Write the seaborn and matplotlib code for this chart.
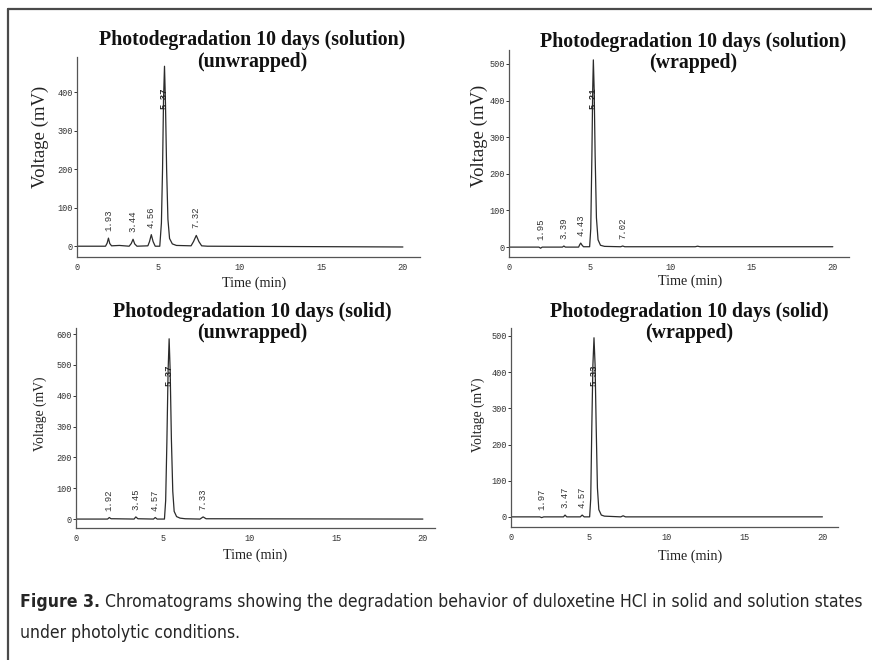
import numpy as np
import pandas as pd
import matplotlib
matplotlib.use("Agg")
import matplotlib.pyplot as plt
import seaborn as sns
from matplotlib import font_manager
from matplotlib.lines import Line2D

# ---------------- data ----------------
# Panel A: solution, unwrapped
t_sol_unw = [0, 1.75, 1.85, 1.93, 2.01, 2.12, 2.6, 3.2, 3.33, 3.44, 3.54, 3.68, 4.35, 4.45, 4.56, 4.67, 4.8,
             5.08, 5.18, 5.25, 5.31, 5.37, 5.43, 5.50, 5.58, 5.68, 5.85, 6.1, 7.0, 7.15, 7.32, 7.48, 7.65, 8.0, 20.0]
v_sol_unw = [0, 0, 8, 21, 7, 1, 2, 0, 7, 18, 6, 0, 1, 12, 30, 12, 0,
             0, 60, 200, 380, 467, 370, 200, 70, 20, 6, 2, 1, 12, 28, 12, 1, 0, -2]
lab_sol_unw = ["1.93", "3.44", "4.56", "7.32"]
labx_sol_unw = [1.93, 3.44, 4.56, 7.32]
labh_sol_unw = [21, 18, 30, 28]
main_sol_unw = ("5.37", 5.37, 385)

# Panel B: solution, wrapped
t_sol_wr = [0, 1.85, 1.95, 2.05, 3.3, 3.39, 3.48, 4.3, 4.36, 4.43, 4.5, 4.6, 4.8,
            4.98, 5.05, 5.12, 5.17, 5.21, 5.26, 5.32, 5.40, 5.5, 5.65, 5.9, 6.9, 7.02, 7.15,
            11.5, 11.65, 11.8, 20.0]
v_sol_wr = [0, 0, -3, 0, 0, 3, 0, 0, 6, 11, 6, 1, 1,
            1, 50, 250, 430, 511, 430, 250, 80, 20, 5, 2, 1, 3, 1,
            1, 2.5, 1, 1]
lab_sol_wr = ["1.95", "3.39", "4.43", "7.02"]
labx_sol_wr = [1.95, 3.39, 4.43, 7.02]
labh_sol_wr = [0, 3, 11, 3]
main_sol_wr = ("5.21", 5.21, 405)

# Panel C: solid, unwrapped
t_sld_unw = [0, 1.82, 1.92, 2.02, 2.2, 3.35, 3.45, 3.57, 4.47, 4.57, 4.68,
             5.1, 5.17, 5.24, 5.31, 5.37, 5.43, 5.50, 5.58, 5.66, 5.8, 6.0, 6.3, 7.15, 7.33, 7.5, 20.0]
v_sld_unw = [0, 0, 5, 1, 1, 0, 7, 1, 0, 5, 0,
             0, 60, 250, 480, 585, 480, 260, 90, 25, 8, 3, 1, 0, 7, 1, 0]
lab_sld_unw = ["1.92", "3.45", "4.57", "7.33"]
labx_sld_unw = [1.92, 3.45, 4.57, 7.33]
labh_sld_unw = [5, 7, 5, 7]
main_sld_unw = ("5.37", 5.37, 467)

# Panel D: solid, wrapped
t_sld_wr = [0, 1.85, 1.97, 2.1, 3.37, 3.47, 3.58, 4.45, 4.57, 4.7,
            5.05, 5.12, 5.19, 5.26, 5.33, 5.40, 5.47, 5.55, 5.64, 5.8, 6.0, 7.05, 7.2, 7.35, 20.0]
v_sld_wr = [0, 0, -2, 0, 0, 5, 0, 0, 5, 0,
            0, 50, 250, 420, 495, 420, 250, 80, 20, 5, 2, 0, 3, 0, 0]
lab_sld_wr = ["1.97", "3.47", "4.57"]
labx_sld_wr = [1.97, 3.47, 4.57]
labh_sld_wr = [0, 5, 5]
main_sld_wr = ("5.33", 5.33, 392)

titles = [
    ("Photodegradation 10 days (solution)", "(unwrapped)"),
    ("Photodegradation 10 days (solution)", "(wrapped)"),
    ("Photodegradation 10 days (solid)", "(unwrapped)"),
    ("Photodegradation 10 days (solid)", "(wrapped)"),
]
y_ticks = [[0, 100, 200, 300, 400], [0, 100, 200, 300, 400, 500],
           [0, 100, 200, 300, 400, 500, 600], [0, 100, 200, 300, 400, 500]]
x_ticks = [0, 5, 10, 15, 20]
caption_bold = "Figure 3."
caption_rest = " Chromatograms showing the degradation behavior of duloxetine HCl in solid and solution states"
caption_line2 = "under photolytic conditions."

# ---------------- styling / layout ----------------
sns.set_style("white")
W, H = 872, 660
fig = plt.figure(figsize=(W / 100, H / 100), dpi=100)

serif = ["Liberation Serif", "DejaVu Serif"]
mono = ["Liberation Mono", "DejaVu Sans Mono"]

# look for a condensed / narrow sans face for the caption
cap_prop_regular = None
cap_prop_bold = None
cands = []
for f in font_manager.fontManager.ttflist:
    nm = (f.name + " " + f.fname).lower()
    st = str(f.stretch).lower()
    if ("narrow" in nm or "condensed" in nm or st in ("condensed", "semi-condensed", "extra-condensed")) \
            and "mono" not in nm and "serif" not in f.name.lower():
        cands.append(f)
def _pick(bold):
    best = None
    for f in cands:
        w = f.weight if isinstance(f.weight, int) else (700 if "bold" in str(f.weight).lower() else 400)
        if (w >= 600) == bold and f.style == "normal":
            # prefer semi-condensed / narrow sans
            score = 0 if "sans" in f.name.lower() else 1
            if best is None or score < best[0]:
                best = (score, f)
    return best[1] if best else None
fr, fb = _pick(False), _pick(True)
if fr is not None:
    cap_prop_regular = font_manager.FontProperties(fname=fr.fname)
    cap_prop_bold = font_manager.FontProperties(fname=fb.fname) if fb is not None else \
        font_manager.FontProperties(fname=fr.fname, weight="bold")
else:
    cap_prop_regular = font_manager.FontProperties(family=["Liberation Sans", "DejaVu Sans"])
    cap_prop_bold = font_manager.FontProperties(family=["Liberation Sans", "DejaVu Sans"], weight="bold")

def px(x, y):
    return x / W, 1 - y / H

# frame (left + top) of the figure plate
fig.add_artist(Line2D([8 / W, 1.0], [1 - 9 / H, 1 - 9 / H], transform=fig.transFigure, color="#4a4a4a", lw=1.6))
fig.add_artist(Line2D([8 / W, 8 / W], [1 - 9 / H, 0], transform=fig.transFigure, color="#4a4a4a", lw=1.6))

panels = [
    dict(t=t_sol_unw, v=v_sol_unw, lab=lab_sol_unw, lx=labx_sol_unw, lh=labh_sol_unw, main=main_sol_unw,
         rect=(77, 420, 57, 257), xlim=(0, 21.05), ylim=(-28, 491),
         title_c=252, title_y=(40, 62), ylab=(40, 137, 13.5), xlab=(254, 283)),
    dict(t=t_sol_wr, v=v_sol_wr, lab=lab_sol_wr, lx=labx_sol_wr, lh=labh_sol_wr, main=main_sol_wr,
         rect=(509, 849, 50, 257), xlim=(0, 21.0), ylim=(-27, 538),
         title_c=693, title_y=(42, 63), ylab=(479, 136, 13.5), xlab=(690, 281)),
    dict(t=t_sld_unw, v=v_sld_unw, lab=lab_sld_unw, lx=labx_sld_unw, lh=labh_sld_unw, main=main_sld_unw,
         rect=(76, 435, 328, 528), xlim=(0, 20.7), ylim=(-29, 620),
         title_c=252, title_y=(312, 333), ylab=(40, 414, 9.8), xlab=(255, 555)),
    dict(t=t_sld_wr, v=v_sld_wr, lab=lab_sld_wr, lx=labx_sld_wr, lh=labh_sld_wr, main=main_sld_wr,
         rect=(511, 838, 328, 527), xlim=(0, 21.0), ylim=(-28, 522),
         title_c=689, title_y=(312, 333), ylab=(478, 415, 9.8), xlab=(690, 556)),
]

line_col = "#2b2b2b"
for p, yt, (t1, t2) in zip(panels, y_ticks, titles):
    l, r, tp, b = p["rect"]
    ax = fig.add_axes([l / W, 1 - b / H, (r - l) / W, (b - tp) / H])
    df = pd.DataFrame({"time": p["t"], "mV": p["v"]})
    sns.lineplot(data=df, x="time", y="mV", ax=ax, color=line_col, linewidth=0.9,
                 sort=False, estimator=None)
    ax.set_xlim(*p["xlim"])
    ax.set_ylim(*p["ylim"])
    ax.set_xticks(x_ticks)
    ax.set_yticks(yt)
    ax.set_xlabel("")
    ax.set_ylabel("")
    for s in ["top", "right"]:
        ax.spines[s].set_visible(False)
    for s in ["left", "bottom"]:
        ax.spines[s].set_color("#555555")
        ax.spines[s].set_linewidth(0.9)
    ax.tick_params(axis="y", length=2.5, width=0.7, pad=0.5, labelsize=6.2, colors="#333333", direction="out", left=True)
    ax.tick_params(axis="x", length=0, pad=4, labelsize=6.2, colors="#333333", bottom=True)
    for lbl in ax.get_xticklabels() + ax.get_yticklabels():
        lbl.set_family(mono)
    # retention-time labels
    for txt, x, h in zip(p["lab"], p["lx"], p["lh"]):
        ax.annotate(txt, xy=(x, max(h, 0)), xytext=(0, 5), textcoords="offset points",
                    rotation=90, ha="center", va="bottom", fontsize=6.5, family=mono, color="#333333")
    mt, mx, my = p["main"]
    ax.text(mx, my, mt, rotation=90, ha="center", va="center", fontsize=6.5, family=mono,
            color="#222222", fontweight="bold")
    # titles and axis labels
    fig.text(*px(p["title_c"], p["title_y"][0]), t1, ha="center", va="center", fontsize=14.3,
             fontweight="bold", family=serif, color="#111111")
    fig.text(*px(p["title_c"], p["title_y"][1]), t2, ha="center", va="center", fontsize=14.3,
             fontweight="bold", family=serif, color="#111111")
    yx, yy, ys = p["ylab"]
    fig.text(*px(yx, yy), "Voltage (mV)", rotation=90, ha="center", va="center", fontsize=ys,
             family=serif, color="#222222")
    fig.text(*px(*p["xlab"]), "Time (min)", ha="center", va="center", fontsize=10.2,
             family=serif, color="#222222")

# caption
renderer = fig.canvas.get_renderer()
cap_size = 15
cap_col = "#262626"
cb = fig.text(*px(20, 602), caption_bold, ha="left", va="center", fontproperties=cap_prop_bold, color=cap_col)
cb.set_fontsize(cap_size)
bb = cb.get_window_extent(renderer)
cr = fig.text(bb.x1 / W, 1 - 602 / H, caption_rest, ha="left", va="center", fontproperties=cap_prop_regular,
              color=cap_col)
cr.set_fontsize(cap_size)
# fit the first caption line to the plate width
total = cr.get_window_extent(renderer).x1 - bb.x0
scale = (865 - 20) / total
cap_size = min(cap_size * scale, 17)
cb.set_fontsize(cap_size)
bb = cb.get_window_extent(renderer)
cr.set_fontsize(cap_size)
cr.set_position((bb.x1 / W, 1 - 602 / H))
c2 = fig.text(*px(20, 633), caption_line2, ha="left", va="center", fontproperties=cap_prop_regular, color=cap_col)
c2.set_fontsize(cap_size)

fig.savefig("out.png", dpi=100, facecolor="white")
